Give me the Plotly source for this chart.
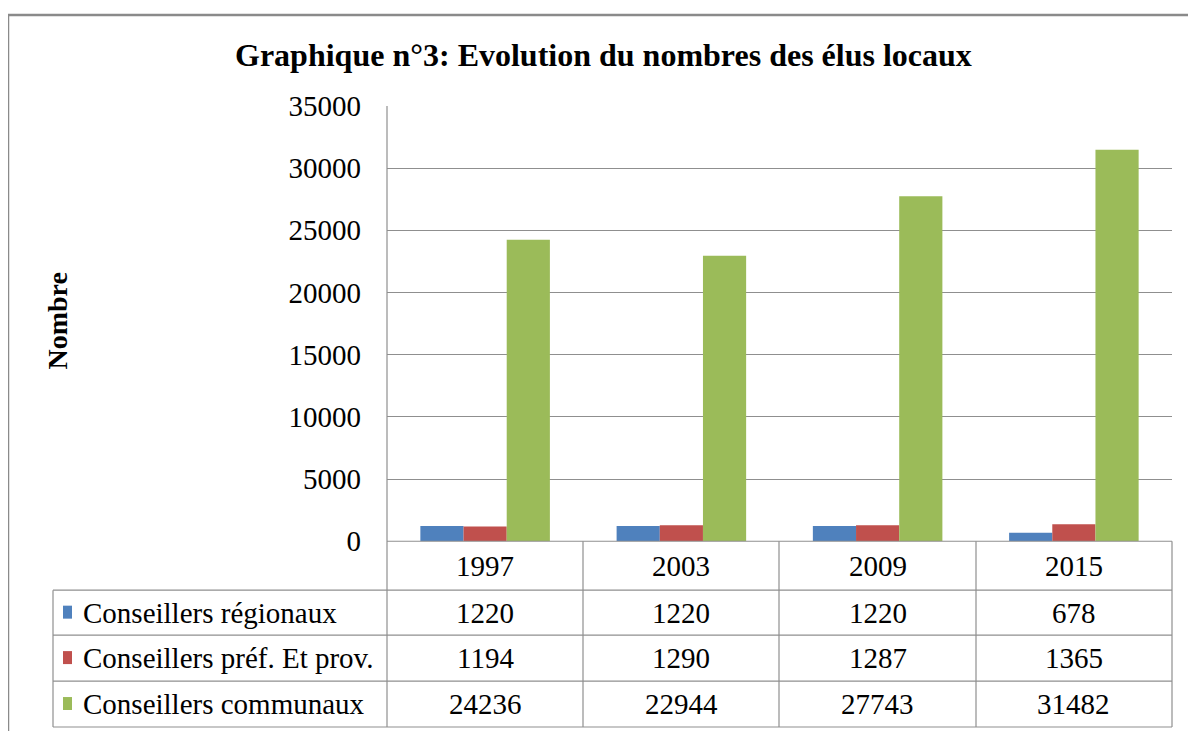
import plotly.graph_objects as go

years = ["1997", "2003", "2009", "2015"]
series_names = ["Conseillers régionaux", "Conseillers préf. Et prov.", "Conseillers communaux"]
regionaux = [1220, 1220, 1220, 678]
prefectoraux = [1194, 1290, 1287, 1365]
communaux = [24236, 22944, 27743, 31482]
series_values = [regionaux, prefectoraux, communaux]
colors = ["#4F81BD", "#C0504D", "#9BBB59"]
y_ticks = [0, 5000, 10000, 15000, 20000, 25000, 30000, 35000]

W, H = 1196, 731
FONT = "Liberation Serif, Times New Roman, serif"

# mapping from target screen pixels to paper fractions (figure shows at x0=8, y0=22, 700 tall)
OX, OY, PH = 8, 22, 700


def px(x):
    return (x - OX) / W


def py(y):
    return 1 - (y - OY) / PH


fig = go.Figure()
for name, vals, col in zip(series_names, series_values, colors):
    fig.add_trace(go.Bar(x=years, y=vals, name=name, marker=dict(color=col, line=dict(width=0))))

PL, PR, PT, PB = 387, 1172, 104, 540
rows_y = [589, 634, 680, 726]
table_left = 53
col_x = [387, 583, 779, 976, 1172]
grid = "#8f8f8f"

shapes = []
shapes.append(dict(type="rect", xref="paper", yref="paper", x0=px(8), y0=py(13), x1=px(1240), y1=py(780),
                   line=dict(color="#8a8a8a", width=2.5), fillcolor="rgba(0,0,0,0)", layer="below"))
shapes.append(dict(type="line", xref="paper", yref="paper", x0=px(PL), x1=px(PL), y0=py(PT), y1=py(rows_y[-1]),
                   line=dict(color=grid, width=1.2)))
for cx in col_x[1:]:
    shapes.append(dict(type="line", xref="paper", yref="paper", x0=px(cx), x1=px(cx), y0=py(PB), y1=py(rows_y[-1]),
                       line=dict(color=grid, width=1.2)))
shapes.append(dict(type="line", xref="paper", yref="paper", x0=px(table_left), x1=px(table_left),
                   y0=py(rows_y[0]), y1=py(rows_y[-1]), line=dict(color=grid, width=1.2)))
shapes.append(dict(type="line", xref="paper", yref="paper", x0=px(PL), x1=px(PR), y0=py(PB), y1=py(PB),
                   line=dict(color=grid, width=1.2)))
for ry in rows_y:
    shapes.append(dict(type="line", xref="paper", yref="paper", x0=px(table_left), x1=px(PR), y0=py(ry), y1=py(ry),
                       line=dict(color=grid, width=1.2)))

annotations = []
annotations.append(dict(text="<b>Graphique n°3: Evolution du nombres des élus locaux</b>", xref="paper", yref="paper",
                        x=px(603), y=py(53), showarrow=False, xanchor="center", yanchor="middle",
                        font=dict(family=FONT, size=32, color="black")))
annotations.append(dict(text="<b>Nombre</b>", xref="paper", yref="paper", x=px(58), y=py(320), textangle=-90,
                        showarrow=False, xanchor="center", yanchor="middle",
                        font=dict(family=FONT, size=28, color="black")))
for i, yr in enumerate(years):
    annotations.append(dict(text=yr, xref="x", yref="paper", x=i, y=py((PB + rows_y[0]) / 2), showarrow=False,
                            xanchor="center", yanchor="middle", font=dict(family=FONT, size=29, color="black")))
for r, (name, vals, col) in enumerate(zip(series_names, series_values, colors)):
    cy = (rows_y[r] + rows_y[r + 1]) / 2
    shapes.append(dict(type="rect", xref="paper", yref="paper", x0=px(63), x1=px(72), y0=py(cy - 7), y1=py(cy + 6),
                       fillcolor=col, line=dict(width=0)))
    annotations.append(dict(text=name, xref="paper", yref="paper", x=px(81), y=py(cy), showarrow=False,
                            xanchor="left", yanchor="middle", font=dict(family=FONT, size=29, color="black")))
    for i, v in enumerate(vals):
        annotations.append(dict(text=str(v), xref="x", yref="paper", x=i, y=py(cy), showarrow=False,
                                xanchor="center", yanchor="middle", font=dict(family=FONT, size=29, color="black")))

fig.update_layout(
    width=W, height=H,
    margin=dict(l=0, r=0, t=0, b=0),
    paper_bgcolor="white", plot_bgcolor="white",
    barmode="group", bargap=0.34, bargroupgap=0,
    showlegend=False,
    shapes=shapes, annotations=annotations,
    xaxis=dict(type="category", categoryorder="array", categoryarray=years, range=[-0.5, 3.5], autorange=False,
               domain=[px(PL), px(PR)], showticklabels=False, showgrid=False, zeroline=False,
               showline=False, ticks=""),
    yaxis=dict(domain=[py(PB), py(PT)], range=[0, 35000], autorange=False, tickvals=y_ticks,
               ticktext=[str(t) for t in y_ticks],
               showgrid=True, gridcolor=grid, gridwidth=1.2, zeroline=False, showline=False, ticks="",
               ticklabelstandoff=25, tickfont=dict(family=FONT, size=29, color="black")),
)

fig.write_html("out.html")
